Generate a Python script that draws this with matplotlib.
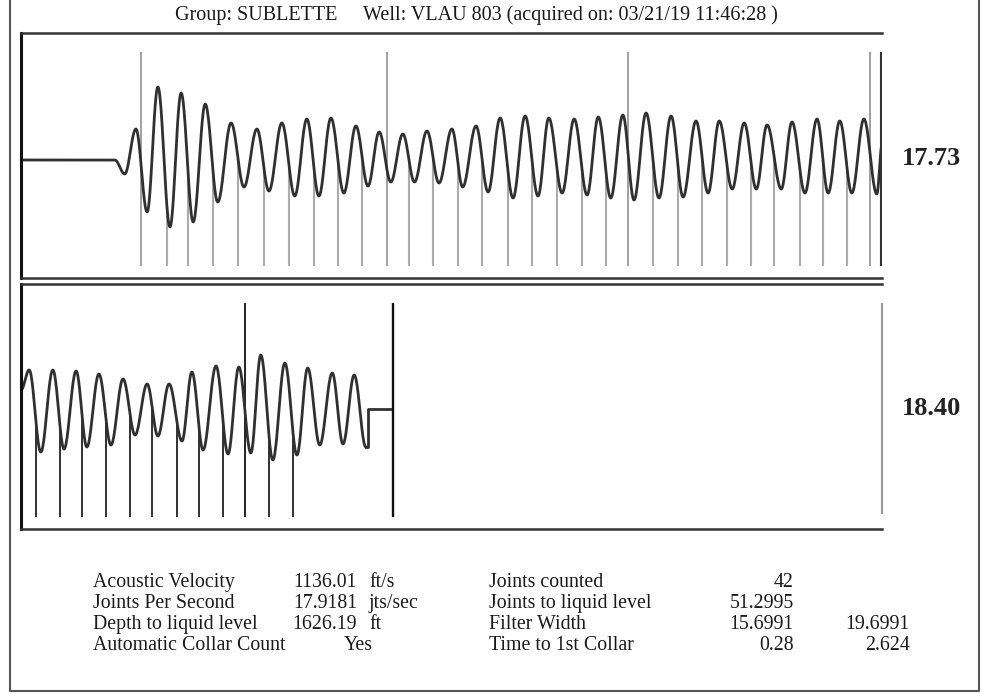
import numpy as np
import matplotlib
matplotlib.use("Agg")
import matplotlib.pyplot as plt
from matplotlib.lines import Line2D

W, H = 983, 694

# waveform extrema: time (s), amplitude (arbitrary units)
panel1_t = [0.000, 0.218, 0.241, 0.267, 0.293, 0.318, 0.346, 0.372, 0.400, 0.428,
            0.457, 0.488, 0.518, 0.548, 0.576, 0.606, 0.636, 0.664, 0.692, 0.720,
            0.750, 0.778, 0.806, 0.832, 0.859, 0.887, 0.914, 0.943, 0.971, 1.001,
            1.026, 1.057, 1.085, 1.113, 1.143, 1.171, 1.201, 1.226, 1.257, 1.285,
            1.315, 1.341, 1.370, 1.398, 1.424, 1.452, 1.482, 1.510, 1.538, 1.568,
            1.596, 1.622, 1.652, 1.680, 1.708, 1.733, 1.766, 1.791, 1.821, 1.849,
            1.875, 1.902, 1.930, 1.958, 1.988, 2.000]
panel1_amp = [0, 0, -14, 31, -52, 73, -67, 67, -62, 56,
              -42, 37, -27, 31, -31, 37, -36, 41, -36, 42,
              -33, 34, -26, 28, -22, 26, -22, 29, -23, 31,
              -27, 34, -32, 42, -38, 44, -36, 42, -33, 41,
              -35, 43, -38, 45, -40, 47, -38, 44, -37, 39,
              -33, 39, -29, 37, -29, 35, -29, 38, -33, 41,
              -33, 39, -33, 41, -34, 15]

panel2_t = [2.000, 2.019, 2.046, 2.074, 2.100, 2.128, 2.153, 2.181, 2.209, 2.237,
            2.265, 2.293, 2.318, 2.344, 2.374, 2.397, 2.423, 2.453, 2.481, 2.506,
            2.534, 2.557, 2.585, 2.613, 2.641, 2.666, 2.694, 2.723, 2.748, 2.774,
            2.801]
panel2_amp = [19, 39, -43, 39, -40, 38, -38, 35, -36, 30,
              -26, 25, -27, 25, -32, 37, -41, 43, -45, 42,
              -44, 54, -51, 46, -46, 41, -36, 36, -35, 34,
              -38]
tail_t = [2.801, 2.806, 2.806, 2.862]
tail_amp = [-38, -38, 0, 0]

# collar marks (s)
collars_1 = [0.339, 0.388, 0.446, 0.504, 0.564, 0.623, 0.681, 0.736, 0.792,
             0.901, 0.957, 1.015, 1.071, 1.131, 1.187, 1.245, 1.303, 1.359,
             1.468, 1.526, 1.582, 1.640, 1.696, 1.749, 1.810, 1.863, 1.919]
tenth_1 = [0.279, 0.850, 1.410, 1.972]
collars_2 = [2.035, 2.091, 2.142, 2.197, 2.253, 2.304, 2.362, 2.413, 2.469,
             2.576, 2.632]
tenth_2 = [2.520]
liquid_t = 2.864

labels_1 = ["Acoustic Velocity", "Joints Per Second", "Depth to liquid level",
            "Automatic Collar Count"]
values_1 = ["1136.01", "17.9181", "1626.19", ""]
units_1 = ["ft/s", "jts/sec", "ft", ""]
labels_2 = ["Joints counted", "Joints to liquid level", "Filter Width",
            "Time to 1st Collar"]
values_2 = ["42", "51.2995", "15.6991", "0.28"]
values_3 = ["", "", "19.6991", "2.624"]


def smooth(ts, amps, n=24):
    xs, ys = [], []
    for i in range(len(ts) - 1):
        s = np.linspace(0, 1, n, endpoint=False)
        xs.append(ts[i] + (ts[i + 1] - ts[i]) * s)
        ys.append(amps[i] + (amps[i + 1] - amps[i]) * (1 - np.cos(np.pi * s)) / 2)
    xs.append([ts[-1]])
    ys.append([amps[-1]])
    return np.concatenate(xs), np.concatenate(ys)


def fx(x):
    return x / W


def fy(y):
    return 1 - y / H


plt.rcParams['font.family'] = ['Liberation Serif', 'DejaVu Serif']
fig = plt.figure(figsize=(W / 100, H / 100), dpi=100)
fig.patch.set_facecolor("white")

# scanned page frame
fig.add_artist(Line2D([fx(10), fx(10), fx(979), fx(979)],
                      [fy(0), fy(691), fy(691), fy(0)],
                      transform=fig.transFigure, color="#555555", lw=1.5))


def make_panel(top, xlim, base_top, base_bot):
    ax = fig.add_axes([fx(21), fy(top + 245), fx(861), 245 / H])
    ax.set_xlim(*xlim)
    ax.set_ylim(base_bot, base_top)
    ax.set_xticks([])
    ax.set_yticks([])
    ax.spines["right"].set_visible(False)
    ax.spines["left"].set_linewidth(2.2)
    ax.spines["left"].set_color("#111111")
    for s in ("top", "bottom"):
        ax.spines[s].set_linewidth(1.8)
        ax.spines[s].set_color("#333333")
    return ax


# top panel
ax1 = make_panel(33, (0, 2.0), 127, -118)
cx, cy = smooth(panel1_t, panel1_amp)
ax1.vlines(collars_1, -106, np.interp(collars_1, cx, cy), color="#ababab", lw=1.5)
ax1.vlines(tenth_1, -106, 108, color="#a0a0a0", lw=1.4)
ax1.plot(cx, cy, color="#303030", lw=2.0)
ax1.vlines([1.998], -106, 108, color="#333333", lw=1.5)

# bottom panel
ax2 = make_panel(284, (2.0, 4.0), 125, -120)
cx2, cy2 = smooth(panel2_t, panel2_amp)
ax2.vlines(collars_2, -108, np.interp(collars_2, cx2, cy2), color="#222222", lw=1.3)
ax2.vlines(tenth_2, -108, 106, color="#222222", lw=1.4)
ax2.plot(cx2, cy2, color="#303030", lw=2.0)
ax2.plot(tail_t, tail_amp, color="#303030", lw=2.0)
ax2.vlines([liquid_t], -108, 106, color="#111111", lw=1.7)
ax2.vlines([4.0], -105, 106, color="#999999", lw=1.5, clip_on=False)

# title
fig.text(fx(175), fy(20), "Group: SUBLETTE", fontsize=14.5, va="baseline", color="#1a1a1a")
fig.text(fx(363), fy(20), "Well: VLAU 803 (acquired on: 03/21/19 11:46:28 )",
         fontsize=14.5, va="baseline", color="#1a1a1a")

# joints per second readouts
fig.text(fx(931), fy(165), "17.73", fontsize=19, fontweight="bold", ha="center",
         va="baseline", color="#222222")
fig.text(fx(932), fy(415), "18.40", fontsize=19, fontweight="bold", ha="center",
         va="baseline", color="#222222")

# summary table
rows_y = [587, 608, 629, 650]
fs = 14.3
for i, y in enumerate(rows_y):
    fig.text(fx(93), fy(y), labels_1[i], fontsize=fs, va="baseline", color="#1a1a1a")
    fig.text(fx(357), fy(y), values_1[i], fontsize=fs, va="baseline", ha="right", color="#1a1a1a")
    fig.text(fx(369), fy(y), units_1[i], fontsize=fs, va="baseline", color="#1a1a1a")
    fig.text(fx(489), fy(y), labels_2[i], fontsize=fs, va="baseline", color="#1a1a1a")
    fig.text(fx(794), fy(y), values_2[i], fontsize=fs, va="baseline", ha="right", color="#1a1a1a")
    fig.text(fx(910), fy(y), values_3[i], fontsize=fs, va="baseline", ha="right", color="#1a1a1a")
fig.text(fx(344), fy(rows_y[3]), "Yes", fontsize=fs, va="baseline", color="#1a1a1a")

fig.savefig("out.png", dpi=100)
